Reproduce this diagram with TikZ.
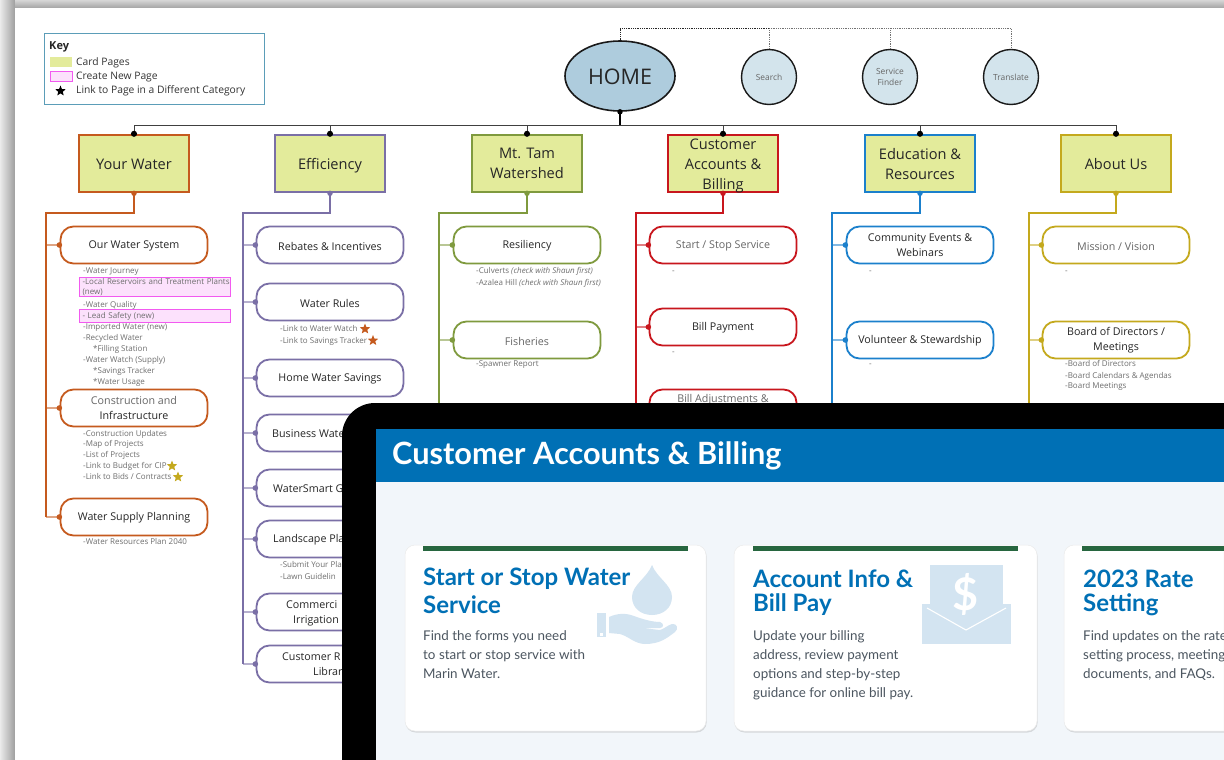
\documentclass[tikz,border=0pt]{standalone}
\usepackage{fontspec}
\setmainfont{Open Sans}
\newfontfamily\cardfont{Lato}
\usetikzlibrary{arrows.meta,shapes.geometric,shadows}
\definecolor{cardgreen}{HTML}{E3EB9B}
\definecolor{newpink}{HTML}{FCE1FC}
\definecolor{newedge}{HTML}{F25AF0}
\definecolor{keyedge}{HTML}{5B9DB8}
\definecolor{homeblue}{HTML}{AECCDD}
\definecolor{toolblue}{HTML}{D3E4EC}
\definecolor{wateror}{HTML}{C55A1E}
\definecolor{effpurple}{HTML}{7A6FA6}
\definecolor{tamolive}{HTML}{7F9A3E}
\definecolor{billred}{HTML}{C8161D}
\definecolor{edublue}{HTML}{1B80CC}
\definecolor{aboutgold}{HTML}{C4A91D}
\definecolor{listgrey}{HTML}{6E6E6E}
\definecolor{softgrey}{HTML}{666666}
\definecolor{headblue}{HTML}{0070B5}
\definecolor{screenbg}{HTML}{F2F6FA}
\definecolor{barpine}{HTML}{27663F}
\definecolor{iconblue}{HTML}{D3E4F1}
\definecolor{bodyslate}{HTML}{4C5660}
\tikzset{
  catbox/.style={draw=#1,rectangle,fill=cardgreen,line width=2pt,minimum width=109.5pt,minimum height=57pt,inner sep=0pt,align=center,text=black!85,font=\fontsize{14.6}{20}\selectfont},
  subpill/.style={draw=#1,rectangle,rounded corners=13pt,fill=white,line width=1.8pt,minimum width=147pt,minimum height=37pt,inner sep=0pt,align=center,text=black!85,font=\fontsize{10.7}{15.5}\selectfont},
  pilltext/.style={inner sep=0pt,text=black!85,font=\fontsize{10.7}{15.5}\selectfont},
  listtext/.style={inner sep=0pt,anchor=base west,yshift=-2.7pt,align=left,text=listgrey,font=\fontsize{8}{11}\selectfont},
  newbox/.style={draw=newedge,fill=newpink,line width=1pt,anchor=north west,inner xsep=3pt,inner ysep=1pt,align=left,text=listgrey,font=\fontsize{8}{10.5}\selectfont},
  branchline/.style={draw=#1,line width=1.4pt},
  stubline/.style={draw=#1!55,line width=1.2pt,shorten >=-2.5pt,-{Circle[#1,length=5.5pt,width=5.5pt]}},
  busline/.style={draw=black!75,line width=1pt},
  dropline/.style={draw=black!75,line width=1pt,shorten >=-2.5pt,-{Circle[black,length=6pt,width=6pt]}},
  dotline/.style={draw=black!#1,line width=.8pt,densely dotted},
  toolnode/.style={draw=black!90,ellipse,fill=toolblue,line width=1.4pt,minimum width=55pt,minimum height=55pt,inner sep=0pt,align=center,text=softgrey,font=\fontsize{8.4}{11.5}\selectfont},
  linkstar/.style={star,star points=5,star point ratio=2.3,fill=#1,inner sep=0pt,minimum size=11pt},
  keytext/.style={inner sep=0pt,anchor=west,text=black!80,font=\fontsize{10.3}{12}\selectfont},
  webcard/.style={fill=white,draw=black!8,line width=.5pt,drop shadow={opacity=.25,shadow xshift=.6pt,shadow yshift=-1.5pt}},
  cardhead/.style={inner sep=0pt,anchor=west,text=headblue,font=\cardfont\bfseries\fontsize{24}{28}\selectfont},
  cardbody/.style={inner sep=0pt,anchor=north west,align=left,text=bodyslate,font=\cardfont\fontsize{13.4}{19}\selectfont},
}
\begin{document}
\begin{tikzpicture}[x=1pt,y=-1pt]
\newcommand\topcard[4]{
\node[catbox=#3] (#1) at (#2,163.8) {#4};
\path[dropline] (#1.north |- bus) -- (#1.north);
\fill[#3] (#1.south) circle (2.7);
}
\newcommand\subpage[6]{
\node[subpill=#5] (#1) at (#3,#4) {#6};
\path[stubline=#5] (#2 |- #1.west) -- (#1.west);
}
\newcommand\oneline[1]{\raisebox{-1.2pt}[\height][\depth]{#1}}
\useasboundingbox (0,0) rectangle (1224,760);
\shade[left color=black!8,right color=black!38] (0,0) rectangle (15,760);
\shade[top color=black!16,bottom color=black!36] (15,0) rectangle (1224,8);
\fill[white] (15,8) rectangle (1224,760);

\node[draw=keyedge,line width=1.4pt,anchor=north west,minimum width=220pt,minimum height=71pt,inner sep=0pt] (key) at (44,33) {};
\node[inner sep=0pt,anchor=west,text=black!85,font=\bfseries\fontsize{11}{13}\selectfont] (keytitle) at (49,47) {Key};
\node[fill=cardgreen,minimum width=22pt,minimum height=10pt,inner sep=0pt] (keycard) at (61,62) {};
\node[draw=newedge,fill=newpink,line width=1pt,minimum width=22pt,minimum height=10pt,inner sep=0pt] (keynew) at (61,76.5) {};
\node[linkstar=black] (keystar) at (60.5,91) {};
\node[keytext] (keycardtext) at (76,63) {Card Pages};
\node[keytext] (keynewtext) at (76,77) {Create New Page};
\node[keytext] (keystartext) at (76,91) {Link to Page in a Different Category};

\node[draw=black!90,ellipse,fill=homeblue,line width=1.6pt,minimum width=110pt,minimum height=70pt,inner sep=0pt,text=black!85,font=\fontsize{21.5}{24}\selectfont] (home) at (620,76) {\raisebox{-1pt}[\height][\depth]{HOME}};
\node[toolnode] (search) at (769,77) {Search};
\node[toolnode] (finder) at (890,77) {Service\\Finder};
\node[toolnode] (translate) at (1011,77) {Translate};
\coordinate (dotleft) at (620,28);
\coordinate (dotmid) at (769,28);
\coordinate (dotright) at (1011,28);
\path[dotline=85] (home.north) -- (dotleft) -- (dotmid);
\path[dotline=55] (dotmid) -- (dotright) -- (translate.north);
\path[dotline=55] (search.north) -- (dotmid);
\path[dotline=55] (finder.north) -- (finder.north |- dotmid);

\coordinate (bus) at (620,125);
\path[draw=black,line width=1.5pt] (home.south) -- (bus);
\fill[black] (home.south) circle (2.7);
\topcard{yourwater}{134}{wateror}{\raisebox{-.3pt}[\height][\depth]{Your Water}}
\topcard{efficiency}{330}{effpurple}{\raisebox{-2pt}[\height][\depth]{Efficiency}}
\topcard{tam}{527}{tamolive}{Mt. Tam\\Watershed}
\topcard{billing}{723}{billred}{}
\node[inner sep=0pt,align=center,text=black!85,font=\fontsize{14.6}{20}\selectfont] (billingtext) at (723,166) {Customer\\Accounts \&\\Billing};
\topcard{education}{920}{edublue}{Education \&\\Resources}
\topcard{about}{1116}{aboutgold}{About Us}
\path[busline] (yourwater.north |- bus) -- (about.north |- bus);

\coordinate (watertrunk) at (46,213);
\coordinate (efftrunk) at (243,213);
\coordinate (tamtrunk) at (439,213);
\coordinate (billtrunk) at (636,213);
\coordinate (edutrunk) at (832,213);
\coordinate (abouttrunk) at (1029,213);
\coordinate (tamend) at (439,420);
\coordinate (billend) at (636,420);
\coordinate (eduend) at (832,420);
\coordinate (aboutend) at (1029,420);

\subpage{system}{watertrunk}{134}{245}{wateror}{\oneline{Our Water System}}
\subpage{construction}{watertrunk}{134}{408}{wateror}{\textcolor{softgrey}{Construction and}\\Infrastructure}
\subpage{supply}{watertrunk}{134}{517}{wateror}{\oneline{Water Supply Planning}}
\path[branchline=wateror] (yourwater.south) |- (watertrunk) -- (watertrunk |- supply.west);

\subpage{rebates}{efftrunk}{330}{245}{effpurple}{\oneline{Rebates \& Incentives}}
\subpage{rules}{efftrunk}{330}{302}{effpurple}{\oneline{Water Rules}}
\subpage{savings}{efftrunk}{330}{378}{effpurple}{\oneline{Home Water Savings}}
\subpage{business}{efftrunk}{330}{433}{effpurple}{}
\subpage{smart}{efftrunk}{330}{488}{effpurple}{}
\subpage{landscape}{efftrunk}{330}{539}{effpurple}{}
\subpage{commercial}{efftrunk}{330}{612}{effpurple}{}
\subpage{library}{efftrunk}{330}{664}{effpurple}{}
\path[branchline=effpurple] (efficiency.south) |- (efftrunk) -- (efftrunk |- library.west);
\node[pilltext,anchor=west] (businesstext) at (272,434) {Business Wate};
\node[pilltext,anchor=west] (smarttext) at (273,489) {WaterSmart G};
\node[pilltext,anchor=west] (landscapetext) at (273,540) {Landscape Pla};
\node[pilltext,anchor=west] (commercialtext) at (286,605) {Commerci};
\node[pilltext,anchor=west] (irrigationtext) at (293,621) {Irrigation};
\node[pilltext,anchor=west] (librarytext) at (282,657) {Customer R};
\node[pilltext,anchor=west] (librarytextb) at (313,671) {Librar};

\subpage{resiliency}{tamtrunk}{527}{245}{tamolive}{\oneline{Resiliency}}
\subpage{fisheries}{tamtrunk}{527}{340}{tamolive}{\oneline{\textcolor{softgrey}{Fisheries}}}
\path[branchline=tamolive] (tam.south) |- (tamtrunk) -- (tamend);

\subpage{startstop}{billtrunk}{723}{245}{billred}{\oneline{\textcolor{softgrey}{Start / Stop Service}}}
\subpage{payment}{billtrunk}{723}{327}{billred}{\oneline{Bill Payment}}
\subpage{adjust}{billtrunk}{723}{408}{billred}{}
\node[pilltext,text=softgrey] (adjusttext) at (723,400) {Bill Adjustments \&};
\path[branchline=billred] (billing.south) |- (billtrunk) -- (billend);

\subpage{events}{edutrunk}{920}{245}{edublue}{Community Events \&\\Webinars}
\subpage{volunteer}{edutrunk}{920}{340}{edublue}{\oneline{Volunteer \& Stewardship}}
\path[branchline=edublue] (education.south) |- (edutrunk) -- (eduend);

\subpage{mission}{abouttrunk}{1116}{245}{aboutgold}{\oneline{\textcolor{softgrey}{Mission / Vision}}}
\subpage{board}{abouttrunk}{1116}{340}{aboutgold}{Board of Directors /\\Meetings}
\path[branchline=aboutgold] (about.south) |- (abouttrunk) -- (aboutend);

\node[listtext] (journey) at (83,271) {-Water Journey};
\node[newbox,text width=145pt] (reservoirs) at (79,276.5) {\mbox{-Local Reservoirs and Treatment Plants}\\(new)};
\node[listtext] (quality) at (83,305) {-Water Quality};
\node[newbox,text width=145pt,minimum height=13pt] (lead) at (79,309) {- Lead Safety (new)};
\node[listtext] (imported) at (83,327) {-Imported Water (new)};
\node[listtext] (recycled) at (83,338) {-Recycled Water};
\node[listtext] (filling) at (93,349) {*Filling Station};
\node[listtext] (watch) at (83,360) {-Water Watch (Supply)};
\node[listtext] (tracker) at (93,370.5) {*Savings Tracker};
\node[listtext] (usage) at (93,382) {*Water Usage};
\node[listtext] (updates) at (83,433.5) {-Construction Updates};
\node[listtext] (projmap) at (83,444) {-Map of Projects};
\node[listtext] (projlist) at (83,455) {-List of Projects};
\node[listtext] (budget) at (83,466) {-Link to Budget for CIP};
\node[linkstar=aboutgold] (budgetstar) at (172,466) {};
\node[listtext] (bids) at (83,477) {-Link to Bids / Contracts};
\node[linkstar=aboutgold] (bidsstar) at (178,477) {};
\node[listtext] (plan) at (83,541.5) {-Water Resources Plan 2040};

\node[listtext] (watchlink) at (280,329) {-Link to Water Watch};
\node[linkstar=wateror] (watchstar) at (365,329) {};
\node[listtext] (trackerlink) at (280,340.5) {-Link to Savings Tracker};
\node[linkstar=wateror] (trackerstar) at (373,340.5) {};
\node[listtext] (submit) at (280,565) {-Submit Your Pla};
\node[listtext] (lawn) at (280,576.5) {-Lawn Guidelin};

\node[listtext] (culverts) at (476,271) {-Culverts \textit{(check with Shaun first)}};
\node[listtext] (azalea) at (476,282.5) {-Azalea Hill \textit{(check with Shaun first)}};
\node[listtext] (spawner) at (476,364) {-Spawner Report};
\node[listtext] (startdash) at (672,271) {-};
\node[listtext] (paydash) at (672,352) {-};
\node[listtext] (eventdash) at (869,271) {-};
\node[listtext] (voldash) at (869,364) {-};
\node[listtext] (missiondash) at (1065,271) {-};
\node[listtext] (directors) at (1065,364) {-Board of Directors};
\node[listtext] (calendars) at (1065,375.5) {-Board Calendars \& Agendas};
\node[listtext] (meetings) at (1065,386) {-Board Meetings};

\fill[black] (342,760) [rounded corners=33pt] -- (342,403) [sharp corners] -- (1224,403) -- (1224,760) -- cycle;
\fill[screenbg] (376,429) rectangle (1224,760);
\fill[headblue] (376,429) rectangle (1224,482);
\node[inner sep=0pt,anchor=west,text=white,font=\cardfont\bfseries\fontsize{30.7}{36}\selectfont] (pagetitle) at (392,456) {Customer Accounts \& Billing};

\path[webcard,rounded corners=10pt] (405,545) rectangle (706,731);
\path[webcard,rounded corners=10pt] (734,545) rectangle (1037,731);
\path[webcard] (1224,545) [rounded corners=10pt] -- (1064,545) -- (1064,731) [sharp corners] -- (1224,731) -- cycle;
\fill[barpine] (423,546) rectangle (688,551);
\fill[barpine] (753,546) rectangle (1018,551);
\fill[barpine] (1082,546) rectangle (1224,551);

\fill[iconblue] (652,565) .. controls (647,578) and (632,585) .. (632,597) .. controls (632,608) and (641,615) .. (652,615) .. controls (663,615) and (672,608) .. (672,597) .. controls (672,585) and (657,578) .. (652,565);
\fill[iconblue] (597,613) rectangle (606,637);
\fill[white] (600,632.5) rectangle (603,635.5);
\fill[iconblue] (609,617) .. controls (618,613) and (626,613) .. (634,616) .. controls (642,619) and (652,622) .. (660,622) .. controls (664,623) and (664,628) .. (660,628) -- (642,628) -- (660,630) .. controls (664,629) and (668,625) .. (672,624) .. controls (677,623) and (679,629) .. (675,632) .. controls (667,638) and (660,644) .. (645,644) .. controls (635,644) and (628,636) .. (620,634) -- (609,633) -- cycle;

\fill[iconblue] (930,565) rectangle (1003,612);
\fill[iconblue] (922,604) rectangle (1011,644);
\draw[white,line width=1.1pt] (927,608) -- (966,630) -- (1006,608);
\node[inner sep=0pt,text=white,font=\cardfont\bfseries\fontsize{45}{48}\selectfont] (dollar) at (966,594) {\$};

\node[cardhead] (starttitle) at (423,579) {Start or Stop Water};
\node[cardhead] (starttitleb) at (423,605) {Service};
\node[cardbody] (startbody) at (423,630) {Find the forms you need\\to start or stop service with\\Marin Water.};
\node[cardhead] (accounttitle) at (753,579) {Account Info \&};
\node[cardhead] (accounttitleb) at (753,605) {Bill Pay};
\node[cardbody] (accountbody) at (753,630) {Update your billing\\address, review payment\\options and step-by-step\\guidance for online bill pay.};
\node[cardhead] (ratetitle) at (1083,579) {2023 Rate};
\node[cardhead] (ratetitleb) at (1083,605) {Setting};
\node[cardbody] (ratebody) at (1083,630) {Find updates on the rate\\setting process, meeting\\documents, and FAQs.};
\end{tikzpicture}
\end{document}
